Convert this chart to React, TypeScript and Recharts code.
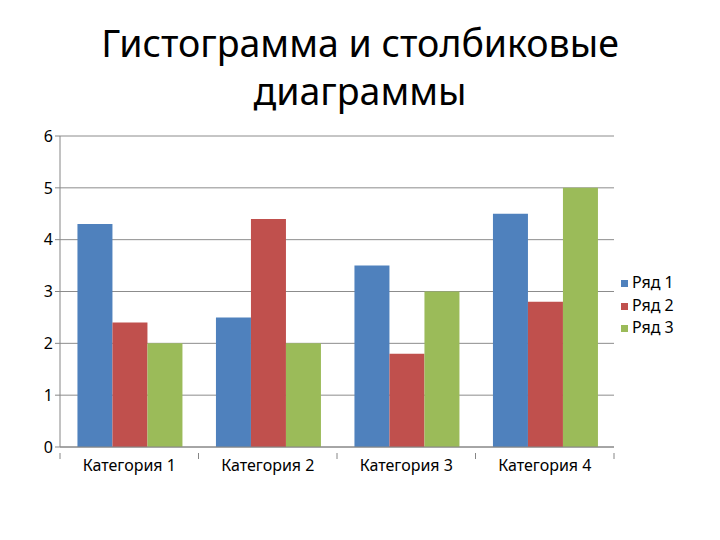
import React from "react";
import { BarChart, Bar, XAxis, YAxis, CartesianGrid, Legend } from "recharts";

const categories = ["Категория 1", "Категория 2", "Категория 3", "Категория 4"];
const row1 = [4.3, 2.5, 3.5, 4.5];
const row2 = [2.4, 4.4, 1.8, 2.8];
const row3 = [2, 2, 3, 5];
const yTicks = [0, 1, 2, 3, 4, 5, 6];

const data = categories.map((name, i) => ({
  name,
  r1: row1[i],
  r2: row2[i],
  r3: row3[i],
}));

const font = "'Noto Sans', sans-serif";

// category label with tick marks on the band edges (like Excel)
const CategoryTick = (props: any) => {
  const { x, y, payload, index } = props;
  const half = payload.offset || 0;
  const last = index === categories.length - 1;
  return (
    <g>
      <line x1={x - half} x2={x - half} y1={y - 2} y2={y + 4} stroke="#868686" />
      {last && <line x1={x + half} x2={x + half} y1={y - 2} y2={y + 4} stroke="#868686" />}
      <text x={x} y={y + 16} textAnchor="middle" fill="#000" fontSize={16} fontFamily={font}>
        {payload.value}
      </text>
    </g>
  );
};

const App: React.FC = () => {
  return (
    <div style={{ position: "absolute", left: 0, top: 0, width: 720, height: 540, background: "#fff", fontFamily: font }}>
      <div
        style={{
          position: "absolute",
          left: 0,
          top: 19,
          width: 720,
          textAlign: "center",
          fontSize: 37.5,
          lineHeight: "48px",
          color: "#000",
        }}
      >
        Гистограмма и столбиковые
        <br />
        диаграммы
      </div>
      <div style={{ position: "absolute", left: 0, top: 0 }}>
        <BarChart
          width={720}
          height={540}
          data={data}
          margin={{ top: 136, right: 14, bottom: 63, left: 30 }}
          barCategoryGap="12.6%"
          barGap={0}
        >
          <CartesianGrid vertical={false} stroke="#8c8c8c" strokeWidth={1} />
          <XAxis
            dataKey="name"
            height={30}
            stroke="#868686"
            tickLine={false}
            tick={<CategoryTick />}
            interval={0}
          />
          <YAxis
            width={30}
            domain={[0, 6]}
            ticks={yTicks}
            stroke="#868686"
            tickSize={5}
            tick={{ fill: "#000", fontSize: 16, fontFamily: font }}
          />
          <Legend
            layout="vertical"
            verticalAlign="top"
            align="right"
            iconType="square"
            iconSize={7}
            wrapperStyle={{ position: "absolute", left: 621, top: 271, width: 92, fontSize: 16, lineHeight: "22.5px" }}
            formatter={(v: string) => <span style={{ color: "#000" }}>{v}</span>}
          />
          <Bar dataKey="r1" name="Ряд 1" fill="#4F81BD" isAnimationActive={false} />
          <Bar dataKey="r2" name="Ряд 2" fill="#C0504D" isAnimationActive={false} />
          <Bar dataKey="r3" name="Ряд 3" fill="#9BBB59" isAnimationActive={false} />
        </BarChart>
      </div>
    </div>
  );
};

export default App;
